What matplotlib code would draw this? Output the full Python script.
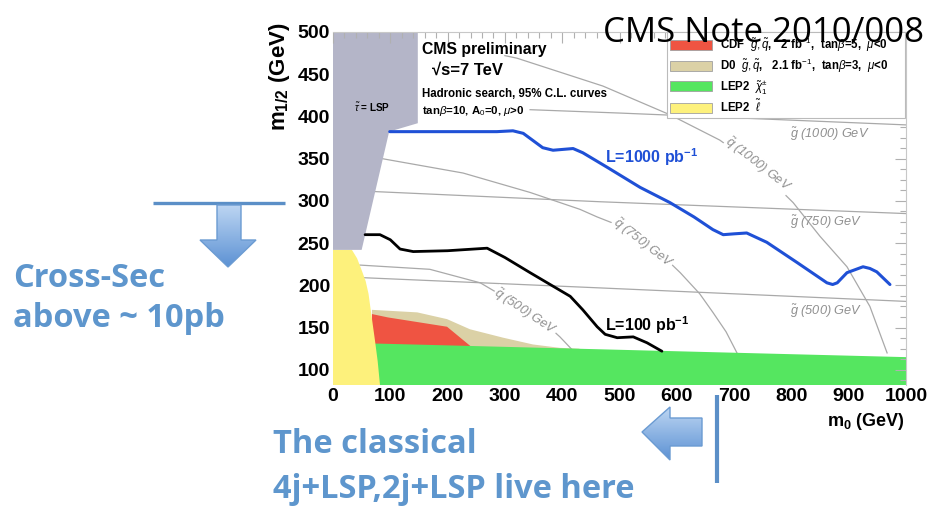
import numpy as np
import matplotlib.pyplot as plt
from matplotlib.patches import Polygon, Patch
from matplotlib.colors import LinearSegmentedColormap
from matplotlib.ticker import MultipleLocator

plt.rcParams['font.family'] = 'Liberation Sans'
plt.rcParams['mathtext.fontset'] = 'custom'
plt.rcParams['mathtext.rm'] = 'Liberation Sans'
plt.rcParams['mathtext.it'] = 'Liberation Sans:italic'
plt.rcParams['mathtext.bf'] = 'Liberation Sans:bold'

# --- excluded / theory regions in the (m0, m1/2) plane, GeV ---
stau_lsp_m0 = [0, 148, 148, 98, 50, 0]
stau_lsp_m12 = [500, 500, 392, 382, 242, 242]

lep2_slep_m0 = [0, 33, 42, 50, 57, 62, 66, 73, 78, 82, 0]
lep2_slep_m12 = [242, 242, 232, 218, 205, 190, 170, 136, 110, 82, 82]

lep2_chi_m0 = [70, 80, 1000, 1000, 70]
lep2_chi_m12 = [131, 131, 115, 82, 82]

d0_m0 = [68, 147, 199, 239, 297, 349, 396, 430, 430, 68]
d0_m12 = [171, 168, 160, 148, 138, 130, 126, 125, 100, 100]

cdf_m0 = [68, 96, 199, 240, 240, 68]
cdf_m12 = [166, 162, 151, 128, 100, 100]

# --- 95% C.L. reach curves ---
l100_m0 = [56, 82, 100, 117, 140, 200, 269, 300, 344, 414, 436, 461, 475, 496, 524, 548, 574]
l100_m12 = [260, 260, 254, 243, 240, 241, 244, 233, 215, 187, 171, 151, 142, 138, 139, 132, 122]

l1000_m0 = [99, 200, 286, 314, 332, 350, 366, 384, 419, 436, 478, 536, 588, 630, 663, 681,
            700, 722, 757, 810, 862, 872, 880, 897, 925, 937, 949, 972]
l1000_m12 = [382, 382, 382, 383, 380, 371, 363, 360, 362, 357, 340, 316, 298, 281, 266, 260,
             261, 262, 251, 227, 203, 201, 203, 215, 222, 220, 216, 201]

# --- iso-mass contours ---
gl500_m0 = [55, 465, 1000]
gl500_m12 = [209, 197, 181]
gl750_m0 = [74, 466, 1000]
gl750_m12 = [311, 299, 285]
gl1000_m0 = [344, 501, 1000]
gl1000_m12 = [408, 404, 390]

sq500_m0 = [47, 169, 257, 297, 340, 370, 396, 417]
sq500_m12 = [224, 219, 203, 187, 170, 155, 139, 124]
sq750_m0 = [86, 227, 344, 431, 461, 506, 560, 606, 640, 663, 686, 705]
sq750_m12 = [350, 333, 310, 290, 281, 269, 245, 215, 190, 168, 145, 120]
sq1000_m0 = [300, 321, 471, 588, 675, 740, 803, 850, 897, 937, 967]
sq1000_m12 = [472, 469, 436, 402, 372, 340, 298, 258, 222, 175, 120]

legend_labels = [r"CDF  $\tilde{g},\tilde{q}$,   2 fb$^{-1}$,  tan$\beta$=5,  $\mu$<0",
                 r"D0  $\tilde{g},\tilde{q}$,   2.1 fb$^{-1}$,  tan$\beta$=3,  $\mu$<0",
                 r"LEP2  $\tilde{\chi}^{\pm}_{1}$",
                 r"LEP2  $\tilde{\ell}$"]

C_GRAY = '#b4b5c8'
C_YEL = '#fdf17c'
C_GRN = '#55e660'
C_RED = '#ef5442'
C_TAN = '#dbd1a6'
C_LINE = '#a9a9a9'
C_SLIDE = '#5e96cd'

fig = plt.figure(figsize=(9.35, 5.09), dpi=100)
ax = fig.add_axes([333 / 935, 1 - 385 / 509, 573 / 935, 353 / 509])

ax.fill(d0_m0, d0_m12, color=C_TAN, lw=0, zorder=1)
ax.fill(cdf_m0, cdf_m12, color=C_RED, lw=0, zorder=1.1)
ax.fill(lep2_chi_m0, lep2_chi_m12, color=C_GRN, lw=0, zorder=1.2)
ax.fill(lep2_slep_m0, lep2_slep_m12, color=C_YEL, lw=0, zorder=1.3)
ax.fill(stau_lsp_m0, stau_lsp_m12, color=C_GRAY, lw=0, zorder=1.3)

for xs, ys in [(gl500_m0, gl500_m12), (gl750_m0, gl750_m12), (gl1000_m0, gl1000_m12),
               (sq500_m0, sq500_m12), (sq750_m0, sq750_m12), (sq1000_m0, sq1000_m12)]:
    ax.plot(xs, ys, color=C_LINE, lw=0.9, zorder=1.05)

ax.plot(l100_m0, l100_m12, color='black', lw=2.0, zorder=3, solid_capstyle='round')
ax.plot(l1000_m0, l1000_m12, color='#1f50d6', lw=2.2, zorder=3, solid_capstyle='round')

ax.set_xlim(0, 1000)
ax.set_ylim(82, 500)
ax.set_xticks(np.arange(0, 1001, 100))
ax.set_yticks(np.arange(100, 501, 50))
ax.xaxis.set_minor_locator(MultipleLocator(20))
ax.yaxis.set_minor_locator(MultipleLocator(12.5))
ax.tick_params(axis='x', which='both', bottom=False, top=True, direction='in', color='#b0b0b0')
ax.tick_params(axis='y', which='both', left=False, right=True, direction='in', color='#b0b0b0')
ax.tick_params(which='major', length=8, width=0.8)
ax.tick_params(which='minor', length=4, width=0.8)
ax.tick_params(axis='x', labelsize=14, pad=2)
ax.tick_params(axis='y', labelsize=14, pad=2)
for lab in ax.get_xticklabels() + ax.get_yticklabels():
    lab.set_fontweight('bold')
for side in ['left', 'bottom']:
    ax.spines[side].set_visible(False)
for side in ['top', 'right']:
    ax.spines[side].set_color('#c8c8c8')
    ax.spines[side].set_linewidth(0.8)

fig.text(280 / 935, 1 - 77 / 509, r"m$_{\mathbf{1/2}}$ (GeV)", rotation=90,
         fontsize=16, fontweight='bold', ha='center', va='center')
fig.text(866 / 935, 1 - 422 / 509, r"m$_{\mathbf{0}}$ (GeV)",
         fontsize=13, fontweight='bold', ha='center', va='center')

# text block and curve labels
ax.text(155, 479, "CMS preliminary", fontsize=11.3, fontweight='bold', va='center', zorder=4)
ax.text(172, 455, "\u221as=7 TeV", fontsize=12, fontweight='bold', va='center', zorder=4)
ax.text(155, 427, "Hadronic search, 95% C.L. curves", fontsize=8.3, fontweight='bold',
        va='center', zorder=4)
ax.text(155, 406, r"tan$\beta$=10, A$_{0}$=0, $\mu$>0", fontsize=8.2, fontweight='bold',
        va='center', zorder=4)
ax.text(68, 412, r"$\tilde{\tau}$ = LSP", fontsize=7.2, fontweight='bold', ha='center',
        va='center', zorder=4)
ax.text(475, 352, r"L=1000 pb$^{\mathbf{-1}}$", fontsize=11.5, fontweight='bold', color='#1f50d6',
        va='center', zorder=4)
ax.text(475, 153, r"L=100 pb$^{\mathbf{-1}}$", fontsize=11.5, fontweight='bold', color='black',
        va='center', zorder=4)

gl_style = dict(fontsize=9.2, style='italic', color='#8f8f8f', ha='left', va='top', zorder=2)
ax.text(798, 389, r"$\tilde{g}$ (1000) GeV", **gl_style)
ax.text(798, 285, r"$\tilde{g}$ (750) GeV", **gl_style)
ax.text(798, 180, r"$\tilde{g}$ (500) GeV", **gl_style)

sq_style = dict(fontsize=9.2, style='italic', color='#8f8f8f', ha='center', va='center', zorder=2,
                bbox=dict(facecolor='white', edgecolor='none', pad=0.5))
ax.text(742, 343, r"$\tilde{q}$ (1000) GeV", rotation=-38, **sq_style)
ax.text(540, 250, r"$\tilde{q}$ (750) GeV", rotation=-38, **sq_style)
ax.text(335, 168, r"$\tilde{q}$ (500) GeV", rotation=-34, **sq_style)

handles = [Patch(facecolor=c, edgecolor='#a0a0a0', lw=0.6) for c in [C_RED, C_TAN, C_GRN, C_YEL]]
leg = ax.legend(handles, legend_labels, loc='upper left', mode='expand',
                bbox_to_anchor=(334 / 573, 1 - 83 / 353, 238 / 573, 83 / 353),
                frameon=True, fancybox=False, edgecolor='#bbbbbb', framealpha=1,
                prop={'weight': 'bold', 'size': 8.3}, handlelength=3.6, handleheight=1.0,
                labelspacing=0.25, borderpad=0.3, handletextpad=0.7, borderaxespad=0)
leg.get_frame().set_linewidth(0.8)
leg.set_zorder(5)

# slide overlay in pixel coordinates
slide = fig.add_axes([0, 0, 1, 1], zorder=5)
slide.patch.set_alpha(0)


def gradient_shape(verts, c_top, c_bottom, edge):
    poly = Polygon(verts, closed=True, facecolor='none', edgecolor=edge, lw=1.0, zorder=3)
    slide.add_patch(poly)
    xs = [v[0] for v in verts]
    ys = [v[1] for v in verts]
    cmap = LinearSegmentedColormap.from_list('arrow', [c_top, c_bottom])
    im = slide.imshow(np.linspace(0, 1, 64).reshape(-1, 1), cmap=cmap, aspect='auto',
                      extent=(min(xs), max(xs), max(ys), min(ys)), origin='upper', zorder=2)
    im.set_clip_path(poly)


slide.plot([153, 285], [203, 203], color='#5b8fc7', lw=2.4, solid_capstyle='butt')
gradient_shape([(217, 205), (241, 205), (241, 240), (256, 240), (228, 267), (200, 240), (217, 240)],
               '#bcd5f2', '#5d92d4', '#6b9bd2')
slide.plot([717, 717], [395, 483], color='#5b8fc7', lw=3, solid_capstyle='butt')
gradient_shape([(642, 432), (670, 407), (670, 418), (702, 418), (702, 446), (670, 446), (670, 460)],
               '#bcd5f2', '#5d92d4', '#6b9bd2')

slide_style = dict(color=C_SLIDE, fontsize=23.5, fontweight='bold', family='Open Sans', va='baseline')
slide.text(13, 287, "Cross-Sec", **slide_style)
slide.text(13, 327, "above ~ 10pb", **slide_style)
slide.text(273, 453, "The classical", **slide_style)
slide.text(273, 498, "4j+LSP,2j+LSP live here", **slide_style)
slide.text(603, 42, "CMS Note 2010/008", color='black', fontsize=25, family='Open Sans',
           va='baseline', zorder=6)

slide.set_xlim(0, 935)
slide.set_ylim(509, 0)
slide.axis('off')

fig.savefig('out.png', dpi=100)
